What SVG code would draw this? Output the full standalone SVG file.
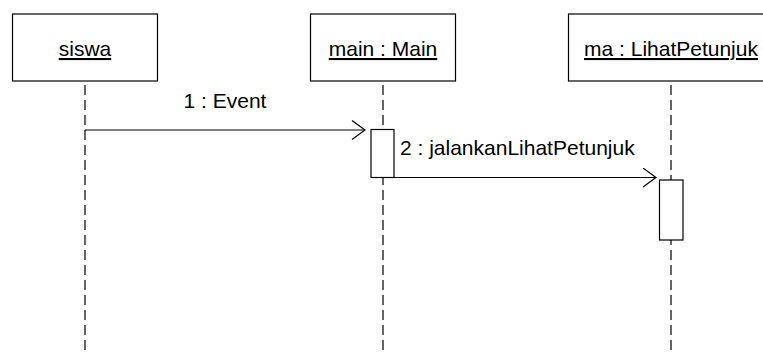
<svg xmlns="http://www.w3.org/2000/svg" width="763" height="352" viewBox="0 0 763 352">
<style>
.box{fill:#fff;stroke:#000;stroke-width:1.2}
.life{stroke:#000;stroke-width:1.2;stroke-dasharray:10 5;fill:none}
.msg{stroke:#000;stroke-width:1.2;fill:none}
.t{font-family:"Liberation Sans",Arial,sans-serif;font-size:21px;fill:#000}
.u{text-decoration:underline}
</style>
<defs>
<marker id="open" markerWidth="16" markerHeight="22" refX="14" refY="10" orient="auto" markerUnits="userSpaceOnUse">
<path d="M1,0.5 L14,10 L1,19.5" fill="none" stroke="#000" stroke-width="1.2"/>
</marker>
</defs>
<rect width="763" height="352" fill="#fff"/>
<g id="lifelines">
<line class="life" x1="85" y1="85" x2="85" y2="352"/>
<line class="life" x1="383" y1="85" x2="383" y2="352"/>
<line class="life" x1="671" y1="85" x2="671" y2="352"/>
</g>
<g id="siswa">
<rect class="box" x="12.5" y="14" width="145" height="67"/>
<text class="t u" x="85" y="56" text-anchor="middle">siswa</text>
</g>
<g id="main">
<rect class="box" x="310.5" y="14" width="145" height="67"/>
<text class="t u" x="383" y="56" text-anchor="middle">main : Main</text>
<rect class="box" x="371" y="129.5" width="23" height="48"/>
</g>
<g id="lihat">
<rect class="box" x="568.5" y="14" width="206" height="67"/>
<text class="t u" x="671" y="56" text-anchor="middle">ma : LihatPetunjuk</text>
<rect class="box" x="659.5" y="180" width="23.5" height="60"/>
</g>
<g id="connectors">
<line class="msg" x1="85" y1="130" x2="365" y2="130" marker-end="url(#open)"/>
<text class="t" x="225" y="108" text-anchor="middle">1 : Event</text>
<line class="msg" x1="394" y1="177.5" x2="656" y2="177.5" marker-end="url(#open)"/>
<text class="t" x="400" y="155">2 : jalankanLihatPetunjuk</text>
</g>
</svg>
